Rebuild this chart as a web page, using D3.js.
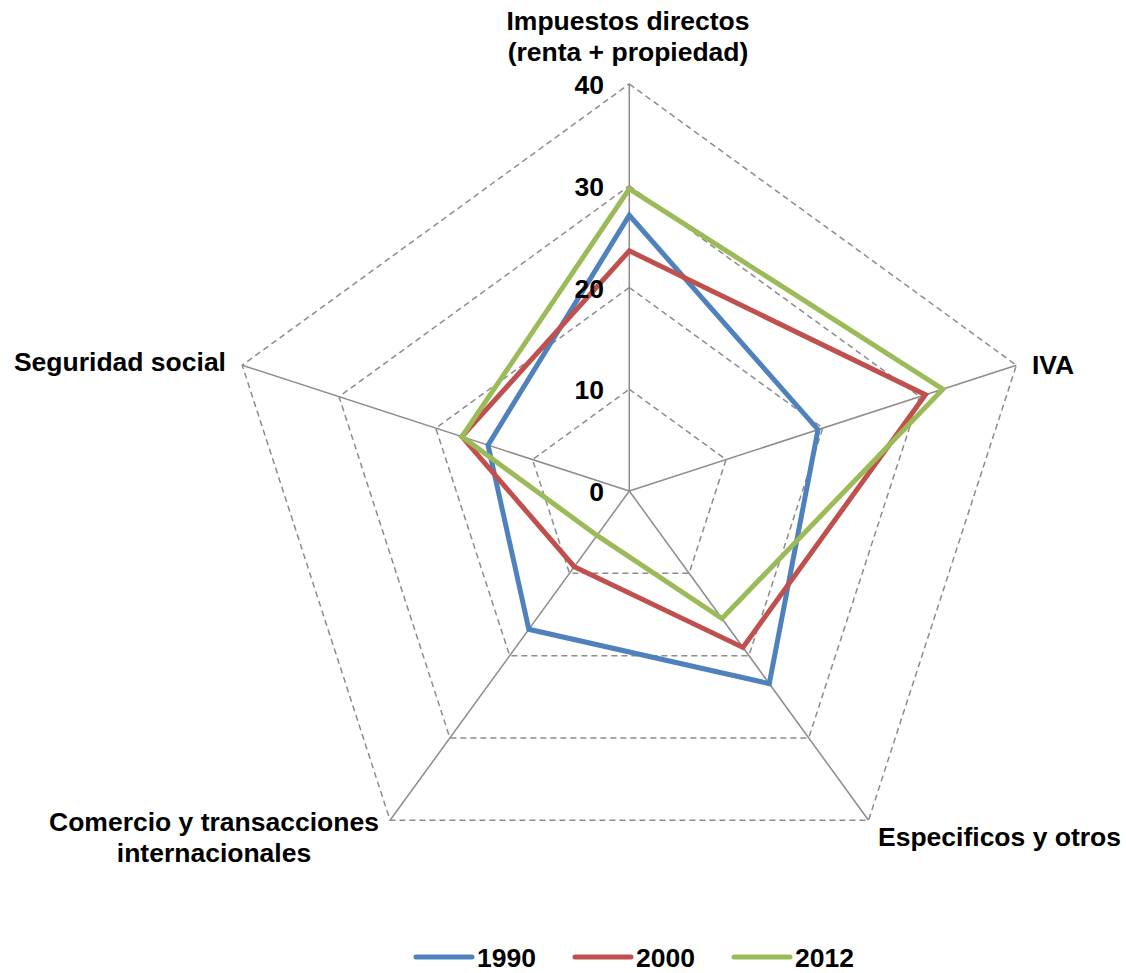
<!DOCTYPE html>
<html>
<head>
<meta charset="utf-8">
<script src="https://cdn.jsdelivr.net/npm/d3@7"></script>
<style>
  html, body { margin: 0; padding: 0; background: #fff; }
  svg { display: block; }
  text { font-family: "Liberation Sans", Arial, sans-serif; font-weight: bold; fill: #000; }
</style>
</head>
<body>
<svg id="chart" width="1126" height="973"></svg>
<script>
// Composición de la recaudación tributaria (% del total)
const categories = [
  ["Impuestos directos", "(renta + propiedad)"],
  ["IVA"],
  ["Especificos y otros"],
  ["Comercio y transacciones", "internacionales"],
  ["Seguridad social"]
];
const years = ["1990", "2000", "2012"];
const values1990 = [27.1, 19.5, 23.4, 16.8, 14.6];
const values2000 = [23.6, 30.6, 19.0, 9.2, 17.3];
const values2012 = [29.7, 32.4, 15.5, 5.4, 17.3];
const tickValues = [0, 10, 20, 30, 40];
const colors = ["#4F81BD", "#C0504D", "#9BBB59"];

const series = [values1990, values2000, values2012];

const svg = d3.select("#chart");
const cx = 629.3, cy = 491;
const fontSize = 26.5;
const r = d3.scaleLinear().domain([0, 40]).range([0, 407]);
const angle = d3.scaleLinear().domain([0, categories.length]).range([0, 2 * Math.PI]);

const pt = (i, v) => {
  const a = angle(i);
  return [cx + r(v) * Math.sin(a), cy - r(v) * Math.cos(a)];
};

const grid = svg.append("g");
// dashed rings
tickValues.filter(t => t > 0).forEach(t => {
  grid.append("path")
    .attr("d", d3.line()(categories.map((c, i) => pt(i, t))) + "Z")
    .attr("fill", "none")
    .attr("stroke", "#8c8c8c")
    .attr("stroke-width", 1.5)
    .attr("stroke-dasharray", "6,4");
});
// spokes
categories.forEach((c, i) => {
  const [x0, y0] = pt(i, 0), [x1, y1] = pt(i, 40);
  grid.append("line")
    .attr("x1", x0).attr("y1", y0).attr("x2", x1).attr("y2", y1)
    .attr("stroke", "#8c8c8c").attr("stroke-width", 1.5);
});

// data polygons
const lineGen = d3.line();
series.forEach((vals, s) => {
  svg.append("path")
    .attr("d", lineGen(vals.map((v, i) => pt(i, v))) + "Z")
    .attr("fill", "none")
    .attr("stroke", colors[s])
    .attr("stroke-width", 5)
    .attr("stroke-linejoin", "miter");
});

// tick labels on the vertical axis
svg.append("g").selectAll("text").data(tickValues).join("text")
  .attr("x", 604)
  .attr("y", d => cy - r(d) + 10)
  .attr("text-anchor", "end")
  .attr("font-size", fontSize)
  .text(d => d);

// category labels
const labelPos = [
  { x: 628, y: 30, anchor: "middle" },
  { x: 1032, y: 374, anchor: "start" },
  { x: 878, y: 846, anchor: "start" },
  { x: 214, y: 831, anchor: "middle" },
  { x: 226, y: 371, anchor: "end" }
];
categories.forEach((lines, i) => {
  const p = labelPos[i];
  const t = svg.append("text")
    .attr("x", p.x).attr("y", p.y)
    .attr("text-anchor", p.anchor)
    .attr("font-size", fontSize);
  lines.forEach((ln, k) => {
    t.append("tspan").attr("x", p.x).attr("dy", k === 0 ? 0 : 31).text(ln);
  });
});

// legend
const legend = svg.append("g");
const legendX = [416, 575, 734];
years.forEach((y, s) => {
  legend.append("line")
    .attr("x1", legendX[s]).attr("x2", legendX[s] + 56)
    .attr("y1", 957).attr("y2", 957)
    .attr("stroke", colors[s]).attr("stroke-width", 5)
    .attr("stroke-linecap", "round");
  legend.append("text")
    .attr("x", legendX[s] + 61).attr("y", 967)
    .attr("font-size", fontSize)
    .text(y);
});
</script>
</body>
</html>
